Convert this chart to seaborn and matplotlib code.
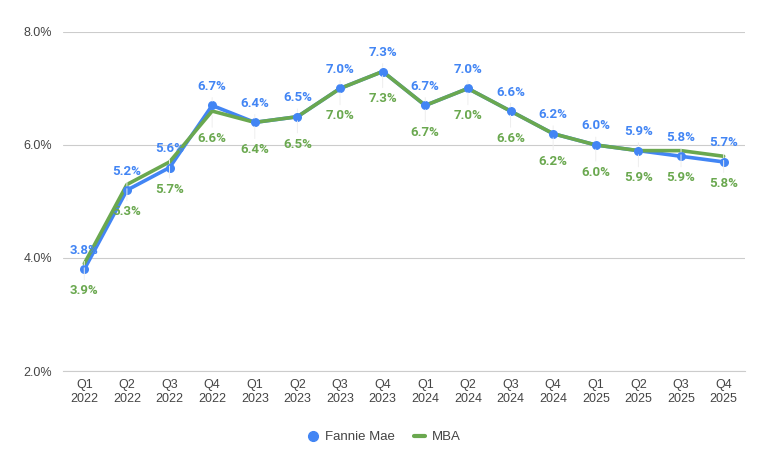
import matplotlib
matplotlib.use("Agg")
import matplotlib.pyplot as plt
import seaborn as sns
import pandas as pd
import numpy as np
from matplotlib.lines import Line2D

quarters = ["Q1\n2022", "Q2\n2022", "Q3\n2022", "Q4\n2022",
            "Q1\n2023", "Q2\n2023", "Q3\n2023", "Q4\n2023",
            "Q1\n2024", "Q2\n2024", "Q3\n2024", "Q4\n2024",
            "Q1\n2025", "Q2\n2025", "Q3\n2025", "Q4\n2025"]
fannie_mae = [3.8, 5.2, 5.6, 6.7, 6.4, 6.5, 7.0, 7.3, 6.7, 7.0, 6.6, 6.2, 6.0, 5.9, 5.8, 5.7]
mba = [3.9, 5.3, 5.7, 6.6, 6.4, 6.5, 7.0, 7.3, 6.7, 7.0, 6.6, 6.2, 6.0, 5.9, 5.9, 5.8]
y_ticks = [2.0, 4.0, 6.0, 8.0]

BLUE = "#4285F4"
GREEN = "#6AA84F"

sns.set_style("white")
plt.rcParams['font.family'] = ['Roboto', 'DejaVu Sans']

fig = plt.figure(figsize=(7.68, 4.70), dpi=100)
ax = fig.add_axes([0.082, 0.2106, 0.888, 0.7214])

x = np.arange(len(quarters))
df_f = pd.DataFrame({"x": x, "y": fannie_mae})
df_m = pd.DataFrame({"x": x, "y": mba})

sns.lineplot(data=df_f, x="x", y="y", ax=ax, color=BLUE, linewidth=2.6, zorder=3)
sns.lineplot(data=df_m, x="x", y="y", ax=ax, color=GREEN, linewidth=2.6, zorder=4)
ax.plot(x, fannie_mae, linestyle="none", marker="o", markersize=6.5,
        color=BLUE, markeredgewidth=0, zorder=5)

leader = dict(arrowstyle="-", color="#eeeeee", lw=0.7, shrinkA=1, shrinkB=3)
for xi, v in zip(x, fannie_mae):
    ax.annotate(f"{v:.1f}%", (xi, v), xytext=(0, 9), textcoords="offset points",
                ha="center", va="bottom", color=BLUE, fontsize=9.5, fontweight="bold",
                zorder=6, arrowprops=leader)
for xi, v in zip(x, mba):
    ax.annotate(f"{v:.1f}%", (xi, v), xytext=(0, -15), textcoords="offset points",
                ha="center", va="top", color=GREEN, fontsize=9.5, fontweight="bold",
                zorder=6, arrowprops=leader)

ax.set_xlim(-0.5, len(quarters) - 0.5)
ax.set_ylim(2.0, 8.0)
ax.set_yticks(y_ticks)
ax.set_yticklabels([f"{t:.1f}%" for t in y_ticks])
ax.set_xticks(x)
ax.set_xticklabels(quarters)
ax.tick_params(axis="both", length=0, labelsize=9, labelcolor="#444444")
ax.tick_params(axis="y", pad=8)
ax.tick_params(axis="x", pad=6)
for lab in ax.get_xticklabels() + ax.get_yticklabels():
    lab.set_family(["Liberation Sans", "DejaVu Sans"])
for lab in ax.get_xticklabels():
    lab.set_linespacing(1.2)
ax.set_xlabel("")
ax.set_ylabel("")
ax.grid(axis="y", color="#cccccc", linewidth=0.8)
ax.set_axisbelow(True)
for s in ["top", "right", "left"]:
    ax.spines[s].set_visible(False)
ax.spines["bottom"].set_color("#cccccc")
ax.spines["bottom"].set_linewidth(0.8)

handles = [Line2D([], [], color=BLUE, marker="o", linestyle="none", markersize=7),
           Line2D([], [], color=GREEN, linewidth=3)]
leg = fig.legend(handles, ["Fannie Mae", "MBA"], loc="center", bbox_to_anchor=(0.5, 0.07),
                 ncol=2, frameon=False, handlelength=0.8, columnspacing=1.5,
                 handletextpad=0.5, labelcolor="#444444",
                 prop={"family": ["Liberation Sans", "DejaVu Sans"], "size": 9.5})

fig.savefig("out.png", dpi=100)
